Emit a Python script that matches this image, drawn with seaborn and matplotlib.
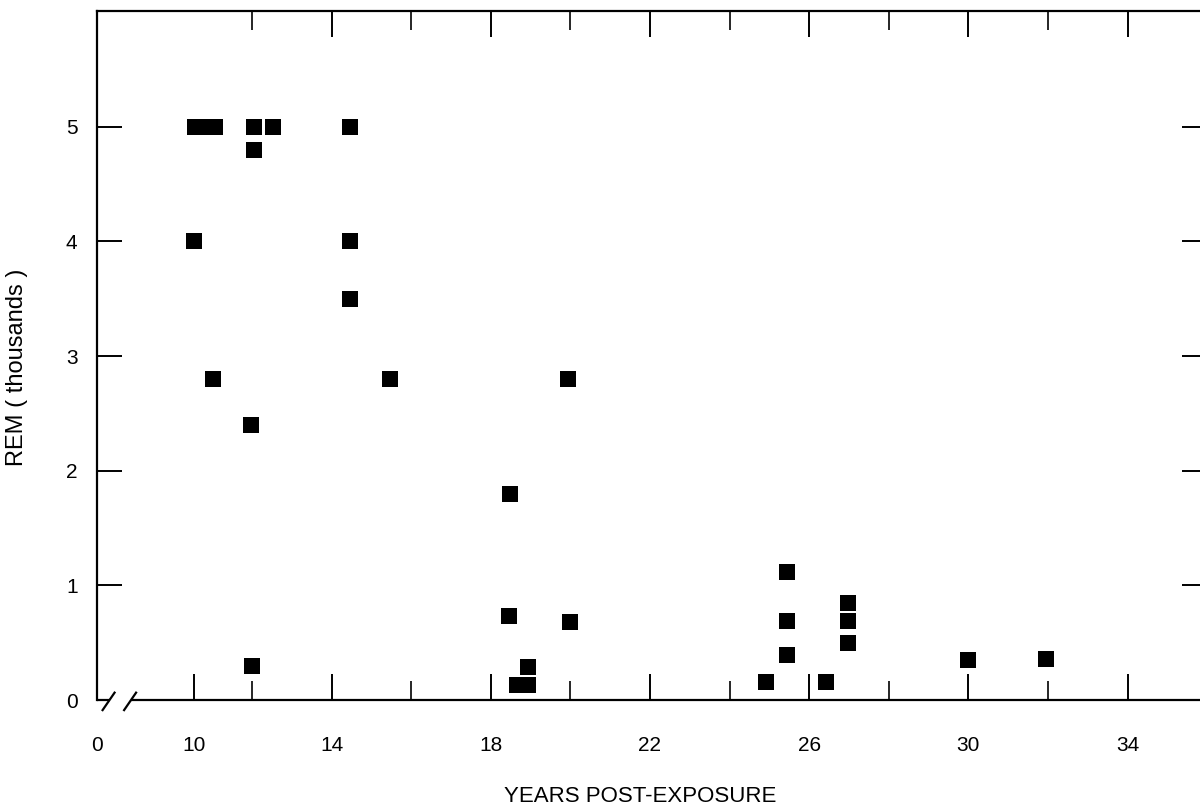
import numpy as np
import pandas as pd
import matplotlib
matplotlib.use("Agg")
import matplotlib.pyplot as plt
import seaborn as sns

# ---- data ----
years = [10.0, 10.03, 10.38, 10.72, 12.04, 12.53, 12.04, 14.47, 14.47, 14.47,
         10.66, 11.97, 12.0, 15.47, 18.48, 18.47, 18.93, 18.65, 18.93, 19.98,
         19.95, 24.91, 25.44, 25.44, 25.44, 26.42, 26.97, 26.97, 26.97, 30.0, 31.94]
rem_thousands = [4.0, 5.0, 5.0, 5.0, 5.0, 5.0, 4.8, 5.0, 4.0, 3.5,
                 2.8, 2.4, 0.3, 2.8, 1.8, 0.73, 0.29, 0.13, 0.13, 0.68,
                 2.8, 0.16, 1.12, 0.69, 0.39, 0.16, 0.85, 0.69, 0.5, 0.35, 0.36]

x_major = [0, 10, 14, 18, 22, 26, 30, 34]
x_labels = ["0", "10", "14", "18", "22", "26", "30", "34"]
x_minor = [12, 16, 20, 24, 28, 32]
y_ticks = [0, 1, 2, 3, 4, 5]
y_labels = ["0", "1", "2", "3", "4", "5"]

df = pd.DataFrame({"years": years, "rem": rem_thousands})

# broken, hand-drawn year axis: 0..10 compressed, 10..12 slightly compressed
_knots_x = np.array([0.0, 10.0, 12.0, 34.0])
_knots_u = np.array([-97.0, 0.0, 58.0, 933.6])
_slope_l, _slope_r = 9.7, 39.8


def fwd(x):
    x = np.asarray(x, dtype=float)
    u = np.interp(x, _knots_x, _knots_u)
    u = np.where(x > _knots_x[-1], _knots_u[-1] + (x - _knots_x[-1]) * _slope_r, u)
    u = np.where(x < _knots_x[0], _knots_u[0] + (x - _knots_x[0]) * _slope_l, u)
    return u


def inv(u):
    u = np.asarray(u, dtype=float)
    x = np.interp(u, _knots_u, _knots_x)
    x = np.where(u > _knots_u[-1], _knots_x[-1] + (u - _knots_u[-1]) / _slope_r, x)
    x = np.where(u < _knots_u[0], _knots_x[0] + (u - _knots_u[0]) / _slope_l, x)
    return x


sns.set_theme(style="white")
plt.rcParams["font.family"] = ["Liberation Sans", "DejaVu Sans"]

fig = plt.figure(figsize=(12, 8.07), dpi=100)
ax = fig.add_axes([97 / 1200, 1 - 700 / 807, 1 - 97 / 1200, (700 - 11) / 807])

sns.scatterplot(data=df, x="years", y="rem", marker="s", s=140,
                color="black", linewidth=0, ax=ax, zorder=3)

ax.set_xscale("function", functions=(fwd, inv))
ax.set_xlim(0, 35.82)
ax.set_ylim(0, 6.01)

# spines
for side in ["left", "top"]:
    ax.spines[side].set_visible(True)
    ax.spines[side].set_color("black")
    ax.spines[side].set_linewidth(1.6)
ax.spines["right"].set_visible(False)
ax.spines["bottom"].set_visible(False)

# bottom spine with axis break
lkw = dict(transform=ax.transAxes, color="black", lw=1.6, clip_on=False,
           solid_capstyle="butt")
ax.plot([0, 0.012], [0, 0], **lkw)
ax.plot([0.031, 1], [0, 0], **lkw)
ax.plot([0.0045, 0.0165], [-0.016, 0.012], **lkw)
ax.plot([0.024, 0.036], [-0.016, 0.012], **lkw)

# x ticks
ax.set_xticks(x_major)
ax.set_xticklabels(x_labels)
ax.set_xticks(x_minor, minor=True)
ax.xaxis.set_minor_formatter(matplotlib.ticker.NullFormatter())
ax.tick_params(axis="x", which="major", direction="in", length=18.5, width=1.4,
               top=True, bottom=True, pad=26, labelsize=15, colors="black")
ax.tick_params(axis="x", which="minor", direction="in", length=13.5, width=1.4,
               top=True, bottom=True)
xt = ax.xaxis.get_major_ticks()
xt[0].tick1line.set_visible(False)
xt[0].tick2line.set_visible(False)
xt[1].tick2line.set_visible(False)

# y ticks
ax.set_yticks(y_ticks)
ax.set_yticklabels(y_labels)
ax.tick_params(axis="y", which="major", direction="in", length=18, width=1.4,
               left=True, right=True, pad=14, labelsize=15, colors="black")
for t in ax.yaxis.get_major_ticks():
    t.tick2line.set_markersize(13)
yt = ax.yaxis.get_major_ticks()
yt[0].tick1line.set_visible(False)
yt[0].tick2line.set_visible(False)

ax.set_xlabel("YEARS POST-EXPOSURE", fontsize=16, color="black")
ax.set_ylabel("REM ( thousands )", fontsize=17, color="black")
ax.xaxis.set_label_coords((640 - 97) / 1103, (700 - 786) / 689)
ax.yaxis.set_label_coords((28 - 97) / 1103, (700 - 367) / 689)

ax.grid(False)
fig.savefig("out.png", dpi=100, facecolor="white")
